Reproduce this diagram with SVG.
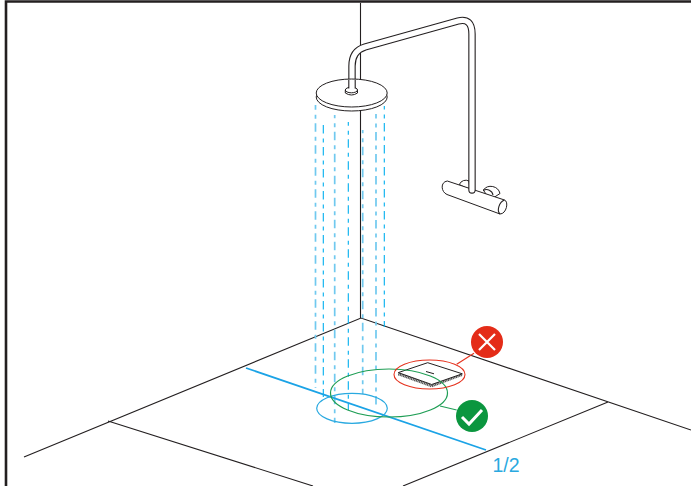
<svg xmlns="http://www.w3.org/2000/svg" width="691" height="486" viewBox="0 0 691 486">
<style>
.k{fill:none;stroke:#231f20;stroke-width:1.1}
.w{fill:#fff;stroke:#231f20;stroke-width:1}
.d1{fill:none;stroke:#00aeef;stroke-width:1.1;stroke-dasharray:8.5 5 4 4.5}
.d2{fill:none;stroke:#70c9ef;stroke-width:1.7;stroke-dasharray:8.5 5 4 4.5}
</style>
<rect width="691" height="486" fill="#fff"/>
<g id="room">
<path d="M6 486V1.5H691" fill="none" stroke="#231f20" stroke-width="2.6"/>
<path class="k" d="M360.5 3V318M24 457L361 318L691 430M108 421L313 486M608 402L403 486"/>
</g>
<g id="water">
<path class="d2" stroke-dashoffset="3.7" d="M315.5 105V388"/>
<path class="d2" stroke-dashoffset="5.3" d="M334.7 115V423"/>
<path class="d2" stroke-dashoffset="5.3" d="M362.7 130V394"/>
<path class="d2" stroke-dashoffset="4" d="M376 114V408"/>
<path class="d1" d="M323.3 125V397"/>
<path class="d1" stroke-dashoffset="4.7" d="M348.3 122V410"/>
<path class="d1" stroke-dashoffset="5" d="M384.3 106V327"/>
</g>
<g id="half-line">
<path d="M246 368L486 450" fill="none" stroke="#1ba3e6" stroke-width="1.8"/>
<text x="492.5" y="472" font-family="'Liberation Sans',Arial,sans-serif" font-size="19.5" fill="#29a9e0">1/2</text>
</g>
<g id="mixer">
<path class="w" d="M459.3 184.5A7 7 0 0 1 469 181L470 190Z"/>
<path class="w" d="M483.3 190A9.5 9.5 0 0 1 500 193.5L490 200Z"/>
<path class="k" d="M483.3 190.5A6.5 6.5 0 0 1 493 195"/>
<path class="w" d="M447.3 181L504.5 200C509 201.5 506.5 214 500 214L447 194.5C441 192 440 182 447.3 181Z"/>
<path class="k" d="M504.5 200C499 202 496.5 211 500 214"/>
</g>
<g id="pipe">
<path d="M352 88V66Q352 51 365 47L458 21Q472 17.5 472 34V190" fill="none" stroke="#231f20" stroke-width="7.4" stroke-linecap="round"/>
<path d="M352 88V66Q352 51 365 47L458 21Q472 17.5 472 34V190" fill="none" stroke="#fff" stroke-width="5.2" stroke-linecap="round"/>
</g>
<g id="head">
<ellipse class="w" cx="351.7" cy="97" rx="35.5" ry="14"/>
<ellipse class="w" cx="351.7" cy="93" rx="35.5" ry="14"/>
<path class="w" d="M345.3 90V93Q351.5 97 357.5 93V90Z"/>
<ellipse class="w" cx="351.4" cy="90" rx="6.1" ry="2.8"/>
<path d="M349 88.5V80H355V88.5Q352 90.5 349 88.5Z" fill="#fff"/>
<path class="k" d="M348.8 88.5V80M355.2 88.5V80"/>
</g>
<g id="tablet">
<path d="M398.3 374L431.7 386L462.3 374.5" fill="none" stroke="#555" stroke-width="2.6" stroke-dasharray="1.2 0.5"/>
<path d="M427.7 362.7L462.3 373.8L431.7 384.5L398.3 372.6Z" fill="#fff" stroke="#231f20" stroke-width="1"/>
<path d="M426 371.5L434 373.8" fill="none" stroke="#231f20" stroke-width="1"/>
</g>
<g id="zones">
<ellipse cx="352" cy="408.3" rx="35.3" ry="15" fill="none" stroke="#29a9e0" stroke-width="1.2"/>
<ellipse cx="389" cy="393" rx="58.5" ry="24" fill="none" stroke="#1f9e55" stroke-width="1.2"/>
<ellipse cx="429.5" cy="374.5" rx="35.5" ry="14.5" fill="none" stroke="#e5301c" stroke-width="1.1"/>
</g>
<g id="connectors">
<path d="M456.7 364.3L474 353.3" fill="none" stroke="#e5301c" stroke-width="1.1"/>
<path d="M440 406L456.7 410" fill="none" stroke="#1f9e55" stroke-width="1.2"/>
</g>
<g id="wrong">
<circle cx="487" cy="342" r="16" fill="#e42c18"/>
<path d="M479 334L495 350M495 334L479 350" fill="none" stroke="#fff" stroke-width="2.2"/>
</g>
<g id="right">
<circle cx="472" cy="416" r="16" fill="#0b963f"/>
<path d="M462 417L469 424L482 410" fill="none" stroke="#fff" stroke-width="3"/>
</g>
</svg>
